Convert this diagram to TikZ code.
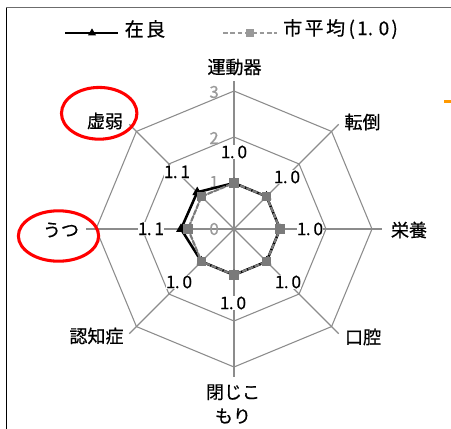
\documentclass[tikz,border=0pt]{standalone}
\usepackage{fontspec}
\setmainfont[FakeBold=0.6]{Noto Sans CJK JP}
\usetikzlibrary{calc,shapes.geometric}
\definecolor{gridgray}{HTML}{8C8C8C}
\definecolor{ticklabgray}{HTML}{9A9A9A}
\definecolor{avggray}{HTML}{7A7A7A}
\definecolor{legavg}{HTML}{999999}
\definecolor{ringred}{HTML}{FF0000}
\definecolor{markorange}{HTML}{FF9900}
\newcommand\lgc[1]{\makebox[16.1pt]{#1}}
\newcommand\lgh[1]{\makebox[8.05pt]{#1}}
\newcommand\lgd{\makebox[8.05pt][l]{.}}
\newcommand\dlh[1]{\makebox[6.2pt]{#1}}
\newcommand\dld{\makebox[6.2pt][l]{.}}
\tikzset{
  gridline/.style={draw=gridgray, line width=0.8pt},
  catlab/.style={font=\fontsize{13.5}{18}\selectfont, inner sep=0pt, align=center},
  ticklab/.style={font=\fontsize{12.5}{14}\selectfont, text=ticklabgray, inner sep=0pt},
  datalab/.style={font=\fontsize{13}{14}\selectfont, fill=white, inner sep=0.8pt},
  leglab/.style={font=\fontsize{14.25}{16}\selectfont, inner sep=0pt},
  avgline/.style={draw=avggray, line width=1.6pt, dash pattern=on 4pt off 1pt},
  zailine/.style={draw=black, line width=1.9pt, line join=round},
  avgmark/.style={rectangle, fill=avggray, minimum size=7.3pt, inner sep=0pt},
  zaimark/.style={regular polygon, regular polygon sides=3, fill=black, minimum size=8.5pt, inner sep=0pt},
  redring/.style={draw=ringred, line width=2.3pt}
}
\begin{document}
\begin{tikzpicture}[x=0.75pt,y=-0.75pt]
\useasboundingbox (0,0) rectangle (451,429);
\fill[white] (0,0) rectangle (451,429);
% frame
\coordinate (fl1) at (6.5,7.5);
\coordinate (fl2) at (6.5,429);
\coordinate (ft2) at (451,7.5);
\draw[black, line width=0.9pt] (fl1) -- (fl2);
\draw[gray!85!black, line width=1.3pt] (fl1) -- (ft2);
\fill[markorange] (444,100) rectangle (451,103);
% radar geometry
\coordinate (O) at (234,229);
\foreach \k in {0,...,7} {
  \foreach \r/\n in {46/1,92/2,138/3,148/e} {
    \coordinate (v\k-\n) at ({234+\r*sin(45*\k)},{229-\r*cos(45*\k)});
  }
}
% rings
\foreach \n in {1,2,3} {
  \draw[gridline] (v0-\n) -- (v1-\n) -- (v2-\n) -- (v3-\n) -- (v4-\n) -- (v5-\n) -- (v6-\n) -- (v7-\n) -- cycle;
}
% spokes
\foreach \k in {0,...,7} { \draw[gridline] (O) -- (v\k-e); }
% tick labels
\node[ticklab, anchor=east] (t3) at (219,92) {3};
\node[ticklab, anchor=east] (t2) at (219,138) {2};
\node[ticklab, anchor=east] (t1) at (219,182) {1};
\node[ticklab, anchor=east] (t0) at (219,229) {0};
% series points
\foreach \k in {0,...,7} {
  \coordinate (a\k) at ({234+46*sin(45*\k)},{229-46*cos(45*\k)});
}
\foreach \k/\r in {0/46,1/46,2/46,3/46,4/46,5/46,6/53,7/52} {
  \coordinate (z\k) at ({234+\r*sin(45*\k)},{229-\r*cos(45*\k)});
}
% 在良 series
\draw[zailine] (z0) -- (z1) -- (z2) -- (z3) -- (z4) -- (z5) -- (z6) -- (z7) -- cycle;
\foreach \k in {0,...,7} { \node[zaimark] (zm\k) at (z\k) {}; }
% 市平均 series
\draw[avgline] (a0) -- (a1) -- (a2) -- (a3) -- (a4) -- (a5) -- (a6) -- (a7) -- cycle;
\foreach \k in {0,...,7} { \node[avgmark] (am\k) at (a\k) {}; }
% data labels
\node[datalab] (d0) at (234,152) {\dlh{1}\dld\dlh{0}};
\node[datalab] (d1) at (287,177) {\dlh{1}\dld\dlh{0}};
\node[datalab] (d2) at (310,229) {\dlh{1}\dld\dlh{0}};
\node[datalab] (d3) at (288,282) {\dlh{1}\dld\dlh{0}};
\node[datalab] (d4) at (233,303) {\dlh{1}\dld\dlh{0}};
\node[datalab] (d5) at (179,282) {\dlh{1}\dld\dlh{0}};
\node[datalab] (d6) at (151,229) {\dlh{1}\dld\dlh{1}};
\node[datalab] (d7) at (177,172) {\dlh{1}\dld\dlh{1}};
% category labels
\node[catlab] (c0) at (234.5,67) {運動器};
\node[catlab] (c1) at (362.5,122) {転倒};
\node[catlab] (c2) at (409,230) {栄養};
\node[catlab] (c3) at (363,337) {口腔};
\node[catlab] (c4) at (233,404) {閉じこ\\もり};
\node[catlab] (c5) at (96.5,336) {認知症};
\node[catlab] (c6) at (61,230) {うつ};
\node[catlab] (c7) at (105,121) {虚弱};
% red highlight rings
\draw[redring] (99.2,113.3) ellipse [x radius=28.3pt, y radius=19.4pt];
\draw[redring] (58.5,236) ellipse [x radius=30.1pt, y radius=18.9pt];
% legend
\coordinate (lz1) at (65,33);
\coordinate (lz2) at (118,33);
\draw[black, line width=1.3pt] (lz1) -- (lz2);
\node[zaimark, minimum size=7pt] (lzm) at (92,33) {};
\node[leglab] (lzt) at (145,29) {\lgc{在}\lgc{良}};
\coordinate (la1) at (223,33);
\coordinate (la2) at (277,33);
\draw[draw=legavg, line width=1.5pt, dash pattern=on 3.5pt off 2pt] (la1) -- (la2);
\node[avgmark, fill=legavg, minimum size=6pt] (lam) at (250,33) {};
\node[leglab] (lat) at (341,29) {\lgc{市}\lgc{平}\lgc{均}\lgh{(}\lgh{1}\lgd\lgh{0}\lgh{)}};
\end{tikzpicture}
\end{document}
